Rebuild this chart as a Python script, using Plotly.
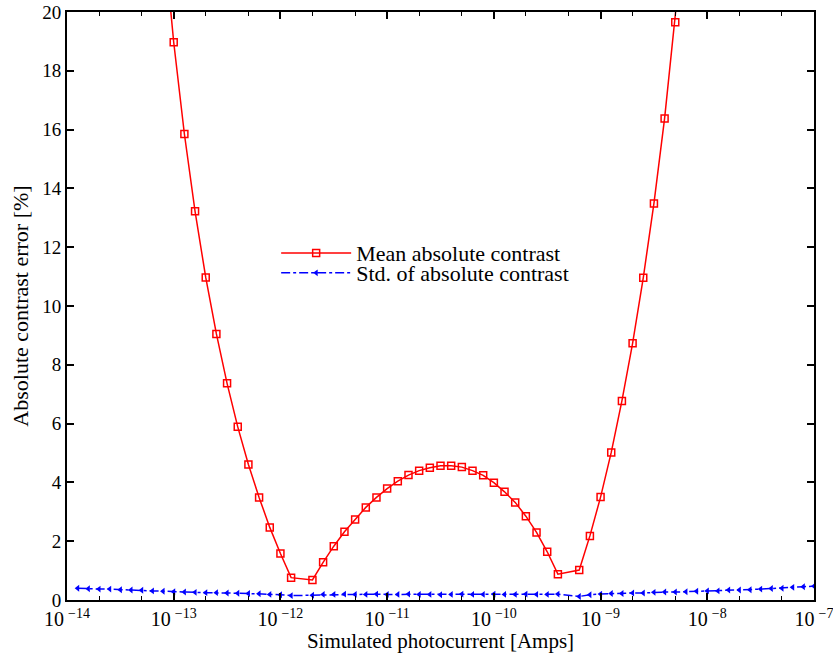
import plotly.graph_objects as go

# Photocurrent grid, stored as log10 exponents (Amps)
log_current_std = [
    -13.9, -13.8, -13.7, -13.6, -13.5, -13.4, -13.3, -13.2, -13.1, -13.0,
    -12.9, -12.8, -12.7, -12.6, -12.5, -12.4, -12.3, -12.2, -12.1, -12.0,
    -11.9, -11.7, -11.6, -11.5, -11.4, -11.3, -11.2, -11.1, -11.0,
    -10.9, -10.8, -10.7, -10.6, -10.5, -10.4, -10.3, -10.2, -10.1, -10.0,
    -9.9, -9.8, -9.7, -9.6, -9.5, -9.4, -9.2, -9.1, -9.0,
    -8.9, -8.8, -8.7, -8.6, -8.5, -8.4, -8.3, -8.2, -8.1, -8.0,
    -7.9, -7.8, -7.7, -7.6, -7.5, -7.4, -7.3, -7.2, -7.1, -7.0,
]
std_contrast = [
    0.40, 0.38, 0.37, 0.37, 0.35, 0.34, 0.33, 0.31, 0.30, 0.28,
    0.27, 0.26, 0.25, 0.25, 0.24, 0.23, 0.22, 0.21, 0.19, 0.18,
    0.15, 0.16, 0.19, 0.19, 0.20, 0.19, 0.19, 0.20, 0.19,
    0.19, 0.20, 0.19, 0.19, 0.18, 0.19, 0.20, 0.19, 0.19, 0.20,
    0.19, 0.19, 0.20, 0.19, 0.19, 0.20, 0.12, 0.18, 0.20,
    0.22, 0.22, 0.24, 0.24, 0.26, 0.27, 0.27, 0.28, 0.30, 0.31,
    0.31, 0.34, 0.34, 0.35, 0.37, 0.39, 0.40, 0.43, 0.45, 0.47,
]

log_current_mean = [
    -13.1, -13.0, -12.9, -12.8, -12.7, -12.6, -12.5, -12.4, -12.3, -12.2,
    -12.1, -12.0, -11.9, -11.7, -11.6, -11.5, -11.4, -11.3, -11.2, -11.1,
    -11.0, -10.9, -10.8, -10.7, -10.6, -10.5, -10.4, -10.3, -10.2, -10.1,
    -10.0, -9.9, -9.8, -9.7, -9.6, -9.5, -9.4, -9.2, -9.1, -9.0,
    -8.9, -8.8, -8.7, -8.6, -8.5, -8.4, -8.3, -8.2,
]
mean_contrast = [
    22.8, 18.97, 15.85, 13.22, 10.97, 9.05, 7.37, 5.89, 4.61, 3.49,
    2.47, 1.58, 0.76, 0.68, 1.28, 1.83, 2.32, 2.74, 3.15, 3.49,
    3.79, 4.04, 4.25, 4.40, 4.50, 4.57, 4.57, 4.52, 4.40, 4.24,
    3.99, 3.68, 3.32, 2.85, 2.30, 1.64, 0.88, 1.02, 2.18, 3.50,
    5.02, 6.77, 8.73, 10.96, 13.49, 16.38, 19.65, 23.4,
]

# Decade tick positions and their labels
decade_exponents = [-14, -13, -12, -11, -10, -9, -8, -7]
decade_labels = [f"10\u2009<sup>\u2212{abs(e)}</sup>" for e in decade_exponents]

x_mean = [10 ** e for e in log_current_mean]
x_std = [10 ** e for e in log_current_std]
decade_vals = [10.0 ** e for e in decade_exponents]

FONT = "Liberation Serif"

fig = go.Figure()
fig.add_trace(go.Scatter(
    x=x_mean, y=mean_contrast, mode="lines+markers",
    name="Mean absolute contrast", legend="legend", showlegend=True,
    line=dict(color="#ff0000", width=1.5),
    marker=dict(symbol="square-open", size=7, color="#ff0000",
                line=dict(width=1.5, color="#ff0000")),
))
fig.add_trace(go.Scatter(
    x=x_std, y=std_contrast, mode="lines+markers",
    name="Std. of absolute contrast", legend="legend2", showlegend=True,
    line=dict(color="#0000ff", width=1.5, dash="dashdot"),
    marker=dict(symbol="triangle-left", size=6, color="#0000ff"),
))

axis_common = dict(
    showgrid=False, zeroline=False, showline=True, linecolor="black",
    linewidth=2, mirror="allticks", ticks="inside", tickcolor="black",
    tickwidth=1.5, ticklen=7, automargin=False,
)

fig.update_xaxes(
    type="log", range=[-14, -7], tickmode="array",
    tickvals=decade_vals, ticktext=decade_labels, ticklabeloverflow="allow",
    tickfont=dict(family=FONT, size=20, color="black"),
    minor=dict(ticks="inside", ticklen=4, tickcolor="black", tickwidth=1.2,
               dtick="D2"),
    title=dict(text="Simulated photocurrent [Amps]",
               font=dict(family=FONT, size=21, color="black"), standoff=3),
    **axis_common,
)
fig.update_yaxes(
    range=[0, 20], dtick=2,
    tickfont=dict(family=FONT, size=19, color="black"),
    title=dict(text="Absolute contrast error [%]",
               font=dict(family=FONT, size=22, color="black"), standoff=8),
    **axis_common,
)

legend_common = dict(
    xanchor="left", yanchor="middle", bgcolor="rgba(0,0,0,0)",
    borderwidth=0, itemwidth=70, visible=True,
    font=dict(family=FONT, size=22, color="black"),
)

fig.update_layout(
    width=833, height=653,
    margin=dict(l=67, r=19, t=12, b=53),
    paper_bgcolor="white", plot_bgcolor="white",
    font=dict(family=FONT, color="black"),
    showlegend=True,
    legend=dict(x=0.28, y=0.590, **legend_common),
    legend2=dict(x=0.28, y=0.556, **legend_common),
)

fig.write_html("out.html")
